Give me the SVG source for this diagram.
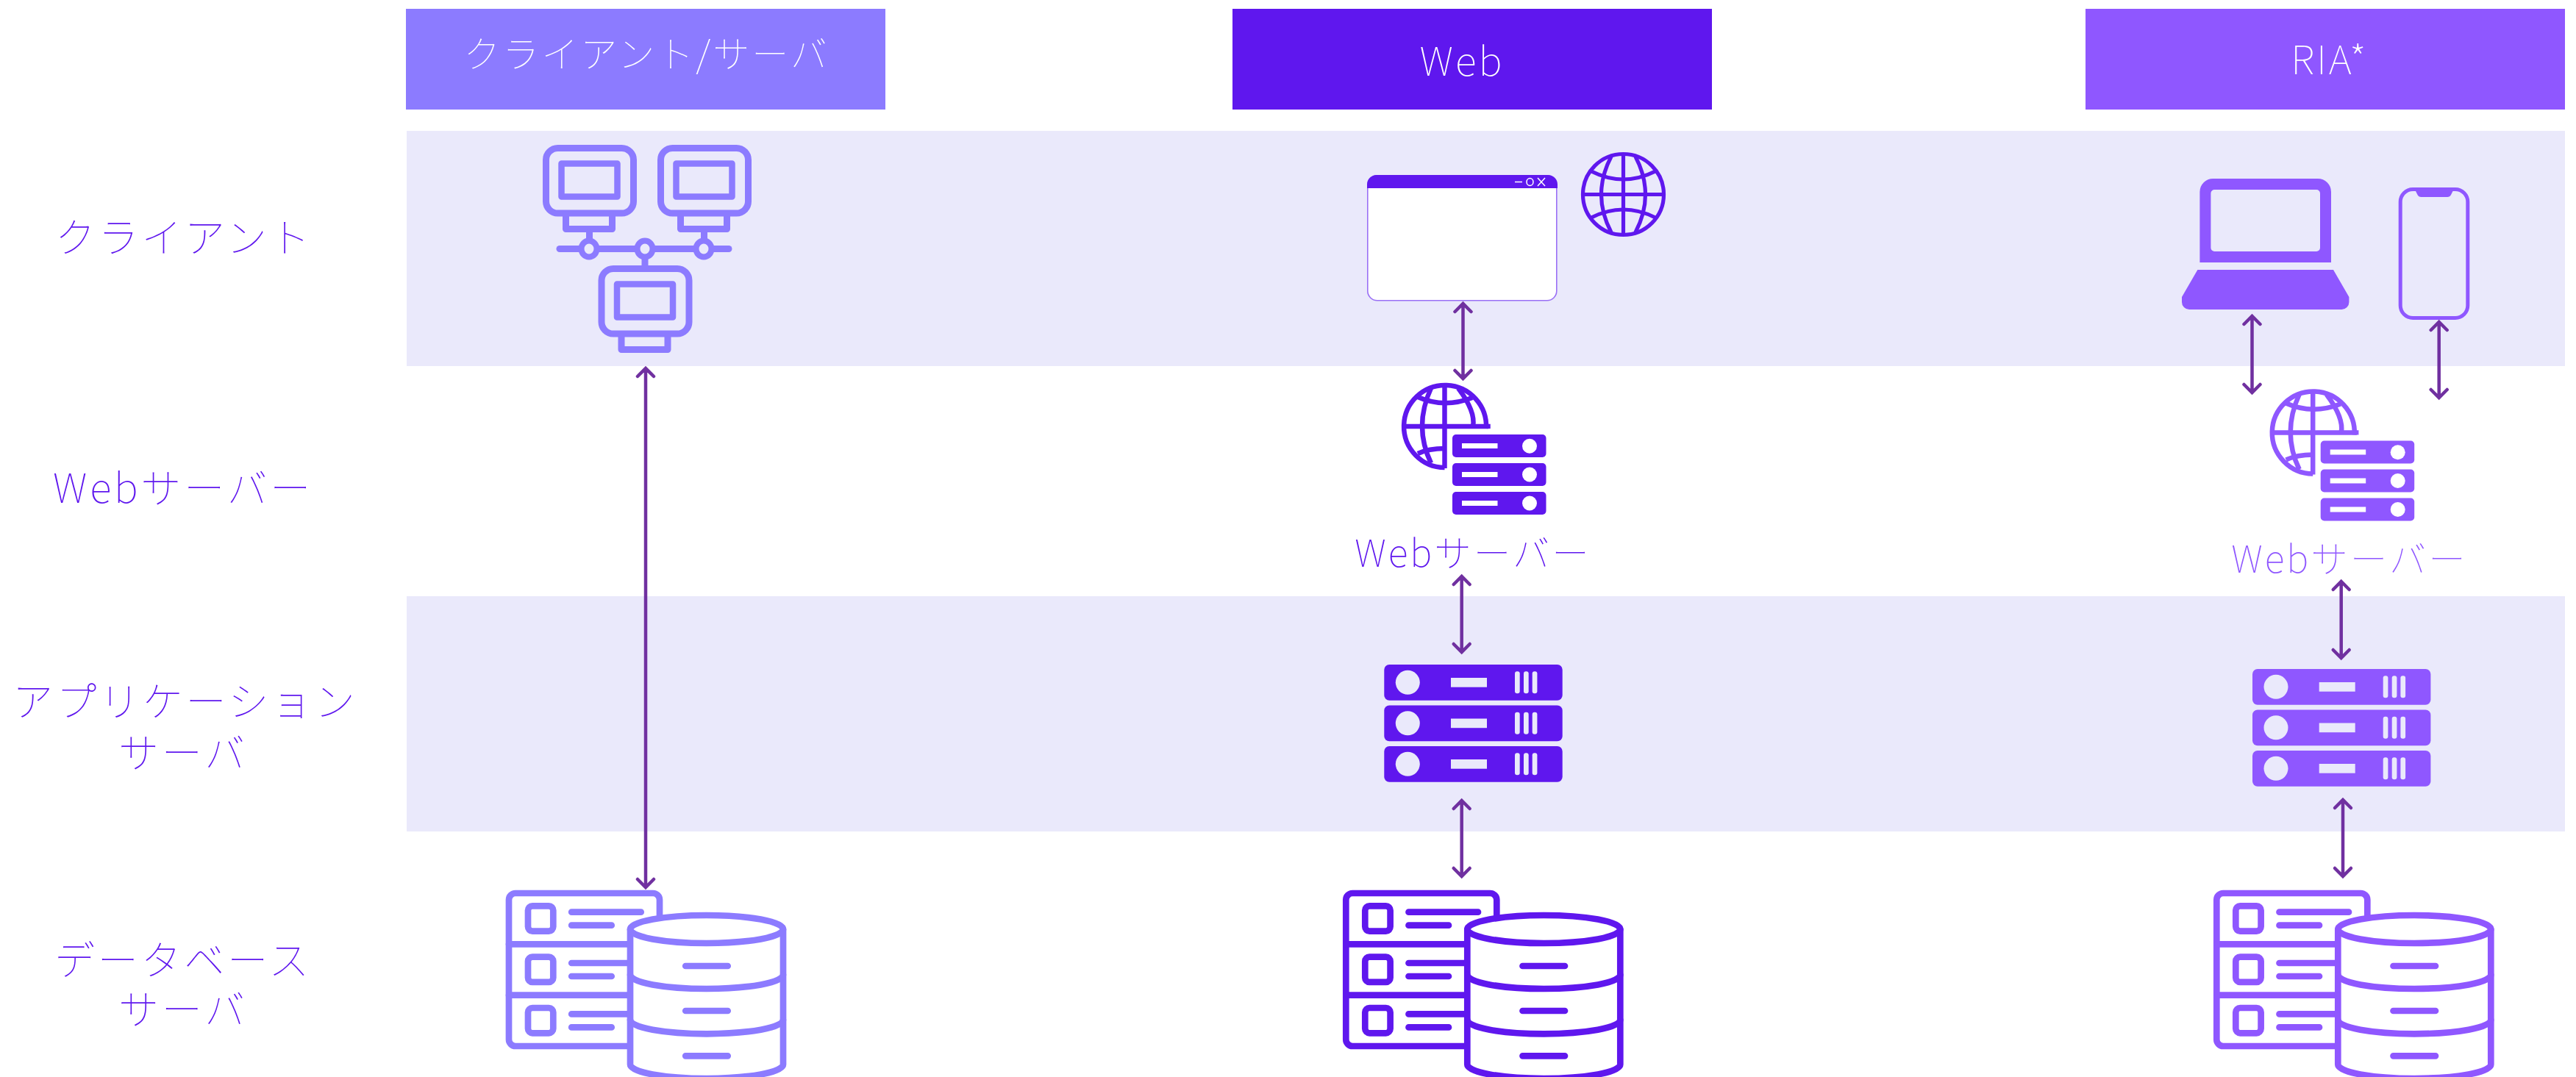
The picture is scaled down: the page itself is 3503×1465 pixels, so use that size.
<svg xmlns="http://www.w3.org/2000/svg" width="3503" height="1465" viewBox="0 0 3503 1465">
<style>
text{font-family:"Noto Sans CJK JP","Noto Sans",sans-serif;font-weight:100;text-anchor:middle}
.hd{fill:#fff;font-size:50px;letter-spacing:3px}
.hl{font-size:54px;letter-spacing:3px}
.lb{fill:#5f17ee;font-size:55px;letter-spacing:3.800px}
.sm{font-size:50.500px;letter-spacing:3px}
.c1{color:#8c7bff}.c2{color:#5f17ee}.c3{color:#8f57ff}
.band{fill:#eae9fb}
.ln{fill:none;stroke:currentColor;stroke-linecap:round;stroke-linejoin:round}
.arr{fill:none;stroke:#7030a0;stroke-width:4.500;stroke-linecap:round;stroke-linejoin:miter}
</style>
<defs>
<g id="monitor" class="ln" stroke-width="9">
<rect x="742.500" y="201.500" width="119" height="88.500" rx="16"/>
<rect x="763.500" y="222.500" width="76" height="45" stroke-width="8.500"/>
<path d="M769.500 294V311.500H832.500V294" stroke-linecap="butt"/>
</g>
<g id="webGlobe" fill="none" stroke="currentColor" stroke-width="6.500">
<path d="M2021 583A56 56 0 1 0 1964.500 636"/>
<path d="M1964.500 524V637M1908 580H2023.500V583"/>
<path d="M1928 540Q1964 556 2002 541M1928 617Q1943 610 1964.500 610"/>
<path d="M1946 528Q1922 580 1946 630M1983 528Q2007 560 2003 580"/>
</g>
<g id="webRack">
<g fill="currentColor">
<rect x="1975" y="591" width="127.500" height="31" rx="5"/>
<rect x="1975" y="630" width="127.500" height="31" rx="5"/>
<rect x="1975" y="669" width="127.500" height="31" rx="5"/>
</g>
<g fill="#fff">
<rect x="1988" y="603" width="48.500" height="7"/><circle cx="2080" cy="606.700" r="10"/>
<rect x="1988" y="642" width="48.500" height="7"/><circle cx="2080" cy="645.500" r="10"/>
<rect x="1988" y="681" width="48.500" height="7"/><circle cx="2080" cy="684.500" r="10"/>
</g>
</g>
<g id="appBar">
<rect x="1882.300" y="904" width="242.400" height="48.700" rx="7" fill="currentColor"/>
<g fill="#eae9fb">
<circle cx="1914.300" cy="928.300" r="16.500"/>
<rect x="1973" y="922" width="49" height="12.700"/>
<rect x="2060" y="913.300" width="6.700" height="30" rx="3"/>
<rect x="2072" y="913.300" width="6.700" height="30" rx="3"/>
<rect x="2083.700" y="913.300" width="6.700" height="30" rx="3"/>
</g>
</g>
<g id="rackRow" class="ln" stroke-width="8.700">
<rect x="1856.300" y="1232.300" width="34.300" height="34.300" rx="6"/>
<path d="M1915.500 1240.700H2010M1915.500 1258.700H1970"/>
</g>
<g id="db">
<rect x="1830.300" y="1215" width="205" height="208" rx="9" fill="#fff" stroke="currentColor" stroke-width="8.700"/>
<path d="M1830.300 1284.300H2035M1830.300 1353.700H2035" class="ln" stroke-width="8.700"/>
<use href="#rackRow"/><use href="#rackRow" y="69.300"/><use href="#rackRow" y="138.700"/>
<path d="M1995.300 1264A104 19 0 0 1 2203.300 1264V1448A104 19 0 0 1 1995.300 1448Z" fill="#fff" stroke="currentColor" stroke-width="8.700" stroke-linejoin="round"/>
<g class="ln" stroke-width="8.700">
<path d="M1995.300 1264A104 19 0 0 0 2203.300 1264"/>
<path d="M1995.300 1326A104 19 0 0 0 2203.300 1326"/>
<path d="M1995.300 1387.300A104 19 0 0 0 2203.300 1387.300"/>
<path d="M2070.500 1314H2128M2070.500 1375H2128M2070.500 1436.300H2128"/>
</g>
</g>
</defs>
<g id="bands">
<rect class="band" x="553" y="178" width="2935" height="320"/>
<rect class="band" x="553" y="811" width="2935" height="320"/>
</g>
<g id="hdr-client-server"><rect x="552" y="12" width="652" height="137" fill="#8c7bff"/><text class="hd" x="879" y="92">クライアント/サーバ</text></g>
<g id="hdr-web"><rect x="1676" y="12" width="652" height="137" fill="#5f17ee"/><text class="hd hl" x="1988" y="103">Web</text></g>
<g id="hdr-ria"><rect x="2836" y="12" width="652" height="137" fill="#8f57ff"/><text class="hd hl" x="3168" y="101">RIA*</text></g>
<g id="lbl-client"><text class="lb" x="250" y="343">クライアント</text></g>
<g id="lbl-web"><text class="lb" x="249" y="684">Webサーバー</text></g>
<g id="lbl-app"><text class="lb" x="252" y="974">アプリケーション</text><text class="lb" x="249" y="1044">サーバ</text></g>
<g id="lbl-db"><text class="lb" x="249" y="1326">データベース</text><text class="lb" x="249" y="1393">サーバ</text></g>
<g id="client-pcs" class="c1">
<use href="#monitor"/><use href="#monitor" x="156"/><use href="#monitor" x="75.500" y="164"/>
<path d="M761 338.500H991" class="ln" stroke-width="9"/>
<path d="M801.500 316V326M957.500 316V326M877 350V362" class="ln" stroke-width="9" stroke-linecap="butt"/>
<g fill="#eae9fb" stroke="currentColor" stroke-width="8"><ellipse cx="801" cy="338.500" rx="10.500" ry="11"/><ellipse cx="877" cy="338.500" rx="10.500" ry="11"/><ellipse cx="957" cy="338.500" rx="10.500" ry="11"/></g>
</g>
<g id="browser" class="c2">
<rect x="1859.800" y="238.800" width="257" height="170" rx="13" fill="#fff" stroke="#9a70f5" stroke-width="1.600"/>
<path d="M1859 256V251A13 13 0 0 1 1872 238H2105A13 13 0 0 1 2118 251V256Z" fill="currentColor"/>
<g fill="none" stroke="#fff" stroke-width="1.500"><path d="M2060 247.500H2070"/><ellipse cx="2080.500" cy="247.500" rx="4.500" ry="5"/><path d="M2091 242L2101 253M2101 242L2091 253"/></g>
</g>
<g id="globe" class="c2">
<g fill="none" stroke="currentColor" stroke-width="5.200">
<circle cx="2207.500" cy="264.500" r="55"/>
<path d="M2207.500 209V320M2152.500 264.500H2262.500"/>
<path d="M2164 233Q2207.500 255 2251 233M2164 296Q2207.500 274 2251 296"/>
<path d="M2191 213Q2164 264.500 2191 316M2224 213Q2251 264.500 2224 316"/>
</g>
</g>
<g id="laptop" class="c3">
<path fill="currentColor" fill-rule="evenodd" d="M2991.400 357V261A18 18 0 0 1 3009.400 243H3152A18 18 0 0 1 3170 261V357ZM3006.400 263V337A5 5 0 0 0 3011.400 342H3150A5 5 0 0 0 3155 337V263A5 5 0 0 0 3150 258H3011.400A5 5 0 0 0 3006.400 263Z"/>
<path fill="currentColor" d="M2988.400 367H3173L3194.400 404V411A10 10 0 0 1 3184.400 421H2977A10 10 0 0 1 2967 411V404Z"/>
</g>
<g id="phone" class="c3">
<rect x="3264.200" y="257.500" width="91.600" height="175" rx="17" fill="none" stroke="currentColor" stroke-width="5"/>
<path d="M3284 258H3336.500L3333 265Q3331.500 268 3328 268H3292.500Q3289 268 3287.500 265Z" fill="currentColor"/>
</g>
<g id="web-server" class="c2"><use href="#webGlobe"/><use href="#webRack"/><text class="lb sm" x="2003" y="771" style="fill:#5f17ee">Webサーバー</text></g>
<g id="ria-server" class="c3"><g transform="translate(1180.700 8.500)"><use href="#webGlobe"/><use href="#webRack"/></g><text class="lb sm" x="3195" y="779" style="fill:#8f57ff">Webサーバー</text></g>
<g id="web-app" class="c2"><use href="#appBar"/><use href="#appBar" y="55.500"/><use href="#appBar" y="111"/></g>
<g id="ria-app" class="c3"><g transform="translate(1180.700 6)"><use href="#appBar"/><use href="#appBar" y="55.500"/><use href="#appBar" y="111"/></g></g>
<g id="cs-db" class="c1"><use href="#db" x="-1138.300"/></g>
<g id="web-db" class="c2"><use href="#db"/></g>
<g id="ria-db" class="c3"><use href="#db" x="1184"/></g>
<g id="connectors" class="arr">
<path d="M878 501V1207M867 512L878 501L889 512M867 1196L878 1207L889 1196"/>
<path d="M1989.500 413V515M1978.500 424L1989.500 413L2000.500 424M1978.500 504L1989.500 515L2000.500 504"/>
<path d="M1987.700 784V887M1976.700 795L1987.700 784L1998.700 795M1976.700 876L1987.700 887L1998.700 876"/>
<path d="M1987.700 1089V1192M1976.700 1100L1987.700 1089L1998.700 1100M1976.700 1181L1987.700 1192L1998.700 1181"/>
<path d="M3062.500 430V534M3051.500 441L3062.500 430L3073.500 441M3051.500 523L3062.500 534L3073.500 523"/>
<path d="M3316.700 438V541M3305.700 449L3316.700 438L3327.700 449M3305.700 530L3316.700 541L3327.700 530"/>
<path d="M3183.700 791V895M3172.700 802L3183.700 791L3194.700 802M3172.700 884L3183.700 895L3194.700 884"/>
<path d="M3186 1088V1192M3175 1099L3186 1088L3197 1099M3175 1181L3186 1192L3197 1181"/>
</g>
</svg>
